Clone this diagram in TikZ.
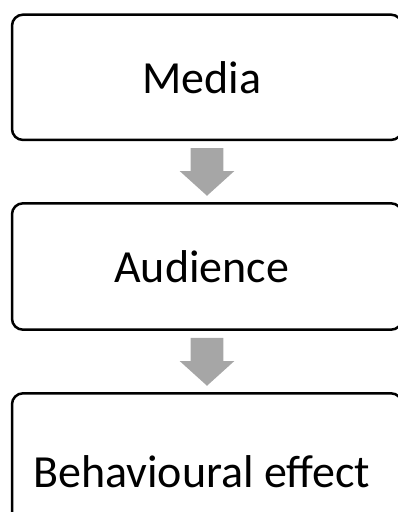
\documentclass[tikz,border=0pt]{standalone}
\usepackage{fontspec}
\setmainfont{Carlito}
\usetikzlibrary{calc}
\definecolor{arrowgray}{RGB}{166,166,166}
\tikzset{
  stage/.style={draw, line width=2.5pt, rounded corners=11pt, align=center,
    minimum width=390pt, inner sep=0pt, font=\fontsize{46}{55}\selectfont},
  blockarrow/.style={fill=arrowgray, to path={
    ($(\tikztostart.south)+(-16.3,7)$) -- ($(\tikztostart.south)+(16.3,7)$)
    -- ($(\tikztotarget.north)+(16.3,-31)$) -- ($(\tikztotarget.north)+(27.3,-31)$)
    -- ($(\tikztotarget.north)+(0,-6.3)$) -- ($(\tikztotarget.north)+(-27.3,-31)$)
    -- ($(\tikztotarget.north)+(-16.3,-31)$) -- cycle}}
}
\begin{document}
\begin{tikzpicture}[x=1pt, y=-1pt]
		\useasboundingbox (0,0) rectangle (398,512);
		\clip (0,0) rectangle (398,512);
		\node[stage, minimum height=125.3pt] (Media) at (207,77.3) {
			Media
		};
        \node[stage, minimum height=126.4pt] (Audience) at (207,266.5) {
            Audience
        };
        \node[stage, minimum height=156pt] (Effect) at (207,471.3) {
        	Behavioural effect
        };
        \path[blockarrow] (Media) to (Audience);
        \path[blockarrow] (Audience) to (Effect);
\end{tikzpicture}
\end{document}
